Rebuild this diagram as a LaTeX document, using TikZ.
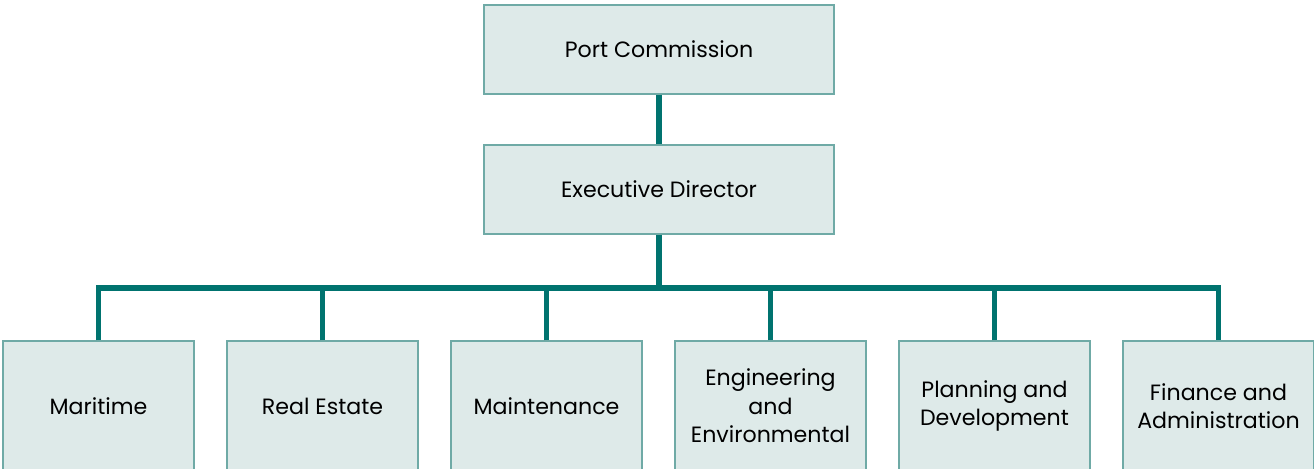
\documentclass[tikz,border=0pt]{standalone}
\usepackage{fontspec}
\setmainfont{Poppins}
\usepackage{tikz}
\usetikzlibrary{positioning}
\definecolor{boxfill}{HTML}{DEEAE9}
\definecolor{boxline}{HTML}{6FAAA6}
\definecolor{linkcol}{HTML}{00736F}

\begin{document}
\begin{tikzpicture}[x=0.02cm,y=-0.02cm,
  font=\fontsize{12.6}{16.3}\selectfont,
  headbox/.style={draw=boxline,fill=boxfill,line width=0.8pt,minimum width=7cm,minimum height=1.78cm,inner sep=0pt},
  unitbox/.style={draw=boxline,fill=boxfill,line width=0.8pt,minimum width=3.82cm,minimum height=2.6cm,inner sep=0pt,align=center},
  link/.style={draw=linkcol,line width=3.1pt}]
\clip (0,0) rectangle (1314,468);
\node[headbox] (pc) at (659,49.5) {Port Commission};
\node[headbox] (ed) at (659,189.5) {Executive Director};
\node[unitbox] (mar) at (98.5,406) {Maritime};
\node[unitbox] (re) at (322.5,406) {Real Estate};
\node[unitbox] (mnt) at (546.5,406) {Maintenance};
\node[unitbox] (env) at (770.5,406) {Engineering\\and\\Environmental};
\node[unitbox] (pln) at (994.5,406) {Planning and\\Development};
\node[unitbox] (fin) at (1218.5,406) {Finance and\\Administration};
\coordinate (bus) at (659,288);
\draw[link] (pc) -- (ed);
\draw[link] (ed) -- (bus);
\draw[link] (mar.north) -- (mar.north |- bus) -- (fin.north |- bus) -- (fin.north);
\draw[link] (re.north) -- (re.north |- bus);
\draw[link] (mnt.north) -- (mnt.north |- bus);
\draw[link] (env.north) -- (env.north |- bus);
\draw[link] (pln.north) -- (pln.north |- bus);
\end{tikzpicture}
\end{document}
